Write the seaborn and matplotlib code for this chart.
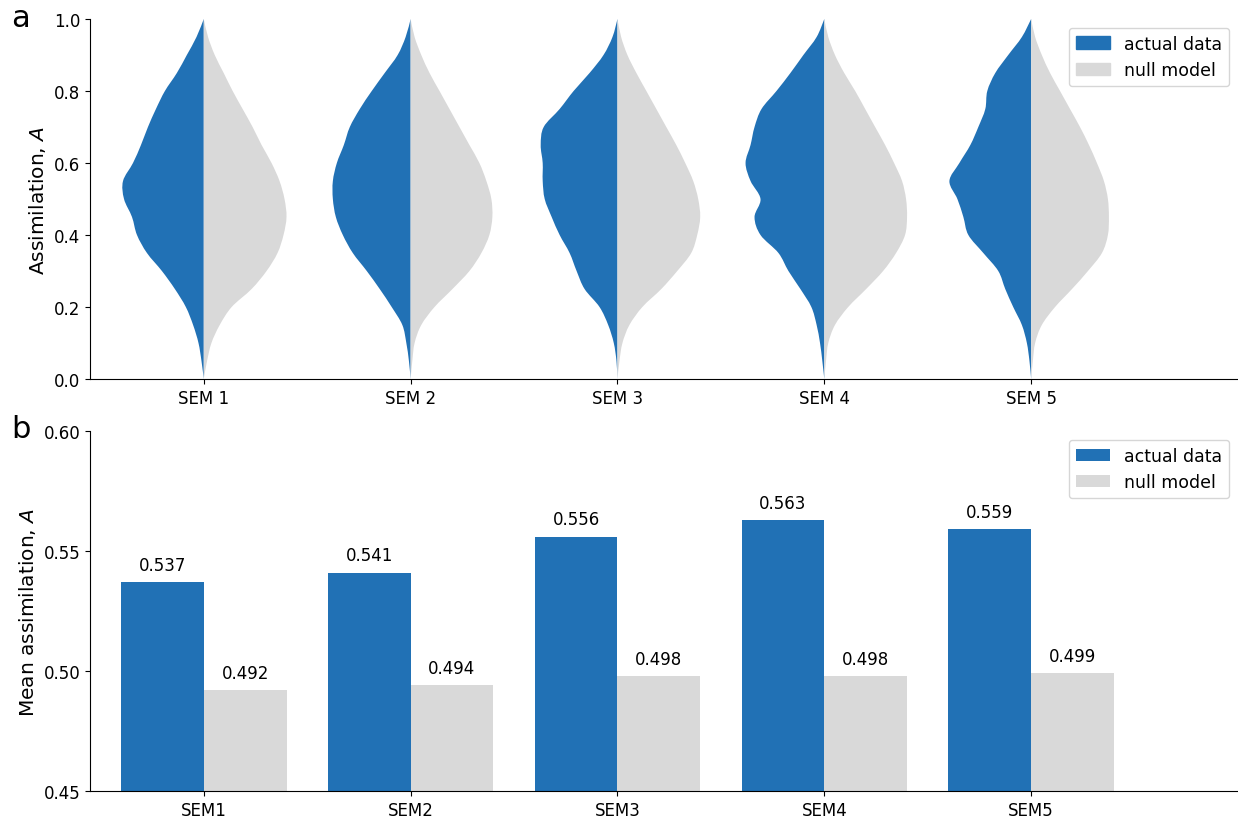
import matplotlib
matplotlib.use("Agg")
import matplotlib.pyplot as plt
import matplotlib.patches as mpatches
from matplotlib.path import Path
import seaborn as sns
import numpy as np
import pandas as pd

# ---- data ----
sems = ['SEM 1', 'SEM 2', 'SEM 3', 'SEM 4', 'SEM 5']
sems_bar = ['SEM1', 'SEM2', 'SEM3', 'SEM4', 'SEM5']

# assimilation values at which the violin profiles were read (0 -> 1)
a_grid = [0.0, 0.05, 0.1, 0.15, 0.2, 0.25, 0.3, 0.35, 0.4, 0.45, 0.5,
          0.55, 0.6, 0.65, 0.7, 0.75, 0.8, 0.85, 0.9, 0.95, 1.0]

# relative density (violin half width)
actual_sem1 = [0, 2.3, 5.3, 10.7, 18, 29, 42, 57, 67, 72, 80, 81, 71, 63, 56, 48, 39, 27, 17, 7.3, 0]
actual_sem2 = [0, 1.7, 4.3, 8.3, 19, 31, 44, 58, 68, 75, 78, 78, 74, 67, 61, 51, 39, 26, 13, 5, 0]
actual_sem3 = [0, 1, 3.7, 9.3, 18, 33, 41, 48, 58, 66, 73, 75, 75, 77, 74, 58, 44, 28, 14, 5, 0]
actual_sem4 = [0, 2, 4.3, 7.7, 13, 24, 36, 46, 64, 70, 64, 74, 79, 74, 70, 63, 48, 34, 21, 7.7, 0]
actual_sem5 = [0, 1.7, 4.3, 9.3, 18, 26, 33, 48, 63, 68, 74, 82, 72, 61, 53, 46, 44, 36, 23, 9.3, 0]

null_sem1 = [0, 3.3, 7.7, 16, 28, 48, 63, 74, 80, 83, 81, 76, 68, 58, 49, 39, 29, 20, 11, 4.3, 0]
null_sem2 = [0, 1.7, 4, 10.7, 24, 42, 59, 71, 79, 82, 81, 76, 69, 59, 49, 39, 29, 19, 10.7, 4, 0]
null_sem3 = [0, 2, 5, 12, 25, 44, 60, 74, 80, 83, 81, 76, 68, 59, 49, 39, 29, 19, 10, 3.7, 0]
null_sem4 = [0, 1.7, 4, 10.7, 24, 42, 59, 72, 81, 83, 82, 78, 70, 61, 51, 41, 31, 20, 10.7, 4, 0]
null_sem5 = [0, 1.7, 4, 10.7, 24, 41, 57, 71, 77, 78, 77, 73, 66, 58, 49, 39, 29, 19, 10.7, 4, 0]

actual_profiles = [actual_sem1, actual_sem2, actual_sem3, actual_sem4, actual_sem5]
null_profiles = [null_sem1, null_sem2, null_sem3, null_sem4, null_sem5]

mean_actual = [0.537, 0.541, 0.556, 0.563, 0.559]
mean_null = [0.492, 0.494, 0.498, 0.498, 0.499]

BLUE = '#2171b5'
GREY = '#d9d9d9'
HALF = 0.4      # max half width of a violin (category units)
DMAX = 83.0     # density value that maps to HALF


def half_violin(ax, center, widths, side, color):
    # smooth outline through the read points (Catmull-Rom drawn as Bezier)
    pts = np.column_stack([center + side * np.array(widths) / DMAX * HALF,
                           np.array(a_grid)])
    verts = [pts[0]]
    codes = [Path.MOVETO]
    n = len(pts)
    for k in range(n - 1):
        p0 = pts[max(k - 1, 0)]
        p1 = pts[k]
        p2 = pts[k + 1]
        p3 = pts[min(k + 2, n - 1)]
        verts += [p1 + (p2 - p0) / 6, p2 - (p3 - p1) / 6, p2]
        codes += [Path.CURVE4] * 3
    verts += [(center, a_grid[-1]), (center, a_grid[0]), (center, a_grid[0])]
    codes += [Path.LINETO, Path.LINETO, Path.CLOSEPOLY]
    ax.add_patch(mpatches.PathPatch(Path(verts, codes), facecolor=color,
                                    edgecolor='none', linewidth=0))


fig = plt.figure(figsize=(12.38, 8.2), dpi=100)
ax1 = fig.add_axes([0.0727, 0.5366, 0.9273, 0.4390])
ax2 = fig.add_axes([0.0727, 0.0341, 0.9273, 0.4390])

# ---- a: split violins ----
for i in range(len(sems)):
    half_violin(ax1, i, actual_profiles[i], -1, BLUE)
    half_violin(ax1, i, null_profiles[i], 1, GREY)

ax1.set_xticks(range(len(sems)))
ax1.set_xticklabels(sems, fontsize=12)
ax1.set_xlim(-0.55, 5.0)
ax1.set_ylim(0, 1)
ax1.tick_params(axis='y', labelsize=12)
ax1.set_ylabel("Assimilation, $A$", fontsize=14.5)
handles = [mpatches.Patch(color=BLUE, label='actual data'),
           mpatches.Patch(color=GREY, label='null model')]
ax1.legend(handles=handles, loc='upper right', fontsize=12.5)
sns.despine(ax=ax1)

# ---- b: mean bars ----
df = pd.DataFrame({
    'sem': sems_bar * 2,
    'value': mean_actual + mean_null,
    'kind': ['actual data'] * 5 + ['null model'] * 5,
})
sns.barplot(data=df, x='sem', y='value', hue='kind', palette=[BLUE, GREY],
            saturation=1, width=0.8, linewidth=0, ax=ax2)
for c in ax2.containers:
    ax2.bar_label(c, fmt='%.3f', padding=6, fontsize=12)
ax2.set_xlim(-0.55, 5.0)
ax2.set_ylim(0.45, 0.60)
ax2.set_yticks([0.45, 0.50, 0.55, 0.60])
ax2.tick_params(axis='both', labelsize=12)
ax2.set_xlabel("")
ax2.set_ylabel("Mean assimilation, $A$", fontsize=14.5)
ax2.legend(loc='upper right', fontsize=12.5, title=None)
sns.despine(ax=ax2)

fig.text(0.009, 0.967, 'a', fontsize=22, va='baseline')
fig.text(0.009, 0.466, 'b', fontsize=22, va='baseline')

fig.savefig('out.png', dpi=100)
